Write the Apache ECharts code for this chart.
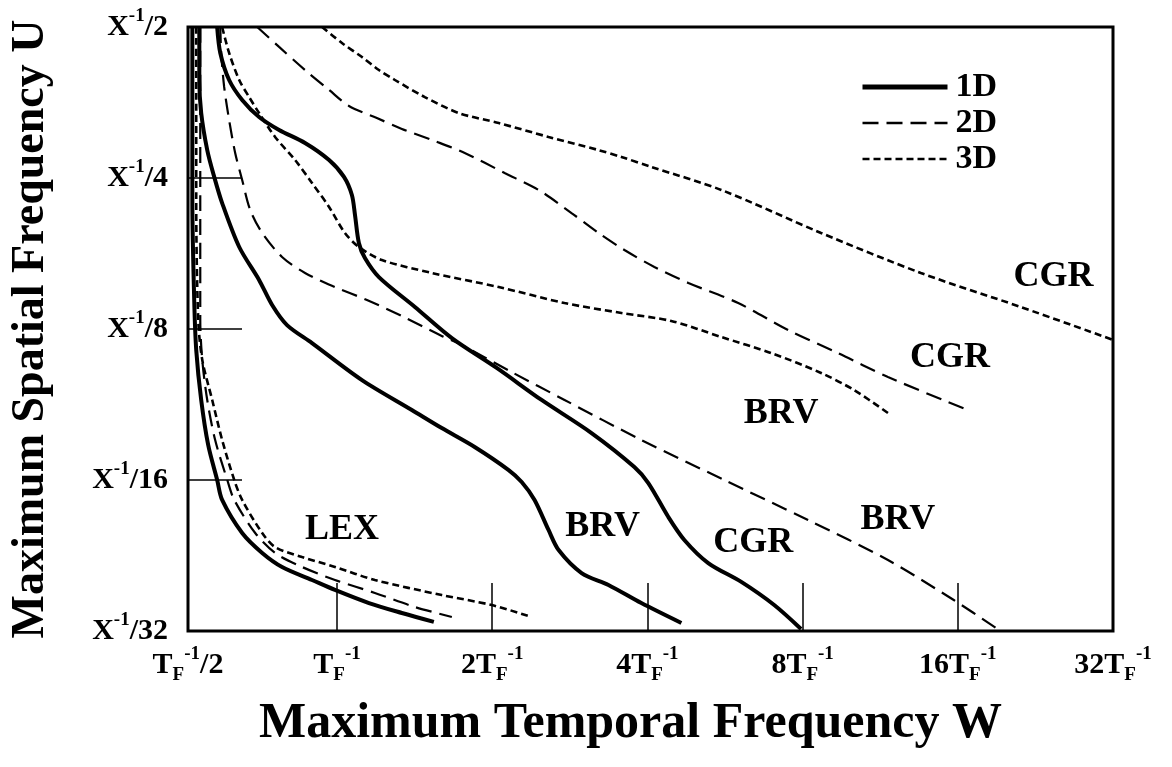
<!DOCTYPE html>
<html>
<head>
<meta charset="utf-8">
<script src="https://cdn.jsdelivr.net/npm/echarts@6.0.0/dist/echarts.min.js"></script>
<style>
  html, body { margin: 0; padding: 0; background: #fff; }
  #chart { width: 1172px; height: 767px; }
</style>
</head>
<body>
<div id="chart"></div>
<script>
// x: log2(W / TF^-1), y: log2 steps from X^-1/32 (0) up to X^-1/2 (4)
const xMin = -0.96
const xTickValues = [0, 1, 2, 3, 4]
const xLabelValues = [xMin, 0, 1, 2, 3, 4, 5]
const xTickLabels = [
    '{m|T}{sub|F}{sup|-1}{m|/2}',
    '{m|T}{sub|F}{sup|-1}',
    '{m|2T}{sub|F}{sup|-1}',
    '{m|4T}{sub|F}{sup|-1}',
    '{m|8T}{sub|F}{sup|-1}',
    '{m|16T}{sub|F}{sup|-1}',
    '{m|32T}{sub|F}{sup|-1}'
]
const yTickValues = [1, 2, 3]
const yLabelValues = [0, 1, 2, 3, 4]
const yTickLabels = [
    '{m|X}{sup|-1}{m|/32}',
    '{m|X}{sup|-1}{m|/16}',
    '{m|X}{sup|-1}{m|/8}',
    '{m|X}{sup|-1}{m|/4}',
    '{m|X}{sup|-1}{m|/2}'
]

// 1D (solid)
const lex1D = [[-0.932, 4.0], [-0.932, 2.854], [-0.920, 2.192], [-0.907, 1.861], [-0.875, 1.530], [-0.830, 1.232],
    [-0.772, 1.000], [-0.740, 0.868], [-0.611, 0.649], [-0.482, 0.517], [-0.354, 0.424], [-0.161, 0.338],
    [-0.013, 0.272], [0.206, 0.185], [0.418, 0.119], [0.624, 0.060]]
const brv1D = [[-0.887, 4.0], [-0.887, 3.649], [-0.875, 3.430], [-0.836, 3.185], [-0.791, 3.007], [-0.740, 2.834],
    [-0.630, 2.543], [-0.502, 2.325], [-0.418, 2.159], [-0.322, 2.026], [-0.161, 1.907], [0.161, 1.662],
    [0.482, 1.464], [0.675, 1.344], [0.887, 1.219], [1.106, 1.066], [1.190, 0.987], [1.273, 0.868],
    [1.363, 0.669], [1.428, 0.536], [1.576, 0.384], [1.749, 0.305], [1.961, 0.185], [2.219, 0.053]]
const cgr1D = [[-0.772, 4.0], [-0.752, 3.828], [-0.695, 3.649], [-0.611, 3.517], [-0.502, 3.404], [-0.373, 3.318],
    [-0.206, 3.232], [-0.051, 3.119], [0.045, 3.007], [0.096, 2.887], [0.116, 2.755], [0.141, 2.570],
    [0.180, 2.470], [0.270, 2.344], [0.502, 2.146], [0.740, 1.940], [1.029, 1.742], [1.318, 1.530],
    [1.640, 1.311], [1.916, 1.086], [2.006, 0.980], [2.135, 0.755], [2.238, 0.603], [2.392, 0.450],
    [2.605, 0.325], [2.817, 0.172], [2.990, 0.013]]

// 2D (long dashes)
const lex2D = [[-0.881, 4.0], [-0.881, 2.854], [-0.881, 2.060], [-0.868, 1.795], [-0.836, 1.530], [-0.785, 1.265],
    [-0.707, 1.000], [-0.662, 0.868], [-0.527, 0.649], [-0.399, 0.517], [-0.225, 0.424], [-0.013, 0.338],
    [0.244, 0.252], [0.502, 0.159], [0.740, 0.093]]
const brv2D = [[-0.752, 4.0], [-0.746, 3.828], [-0.727, 3.603], [-0.695, 3.384], [-0.656, 3.166], [-0.611, 2.987],
    [-0.559, 2.788], [-0.482, 2.636], [-0.354, 2.477], [-0.206, 2.371], [-0.013, 2.278], [0.193, 2.192],
    [0.418, 2.086], [0.675, 1.954], [0.804, 1.894], [1.125, 1.715], [1.466, 1.530], [1.961, 1.265],
    [2.495, 1.000], [3.035, 0.735], [3.550, 0.470], [3.974, 0.205], [4.257, 0.013]]
const cgr2D = [[-0.514, 4.0], [-0.373, 3.868], [-0.206, 3.715], [-0.051, 3.583], [0.077, 3.477], [0.257, 3.397],
    [0.418, 3.325], [0.630, 3.245], [0.823, 3.166], [1.080, 3.033], [1.299, 2.921], [1.511, 2.768],
    [1.685, 2.636], [1.852, 2.523], [2.045, 2.411], [2.264, 2.305], [2.585, 2.172], [2.907, 1.993],
    [3.228, 1.841], [3.550, 1.682], [4.064, 1.464]]

// 3D (short dashes)
const lex3D = [[-0.907, 4.0], [-0.907, 2.854], [-0.894, 2.060], [-0.868, 1.795], [-0.804, 1.530], [-0.740, 1.265],
    [-0.662, 1.000], [-0.611, 0.868], [-0.482, 0.649], [-0.399, 0.556], [-0.225, 0.490], [-0.013, 0.424],
    [0.244, 0.338], [0.675, 0.238], [0.997, 0.172], [1.235, 0.099]]
const brv3D = [[-0.740, 4.0], [-0.695, 3.828], [-0.630, 3.649], [-0.566, 3.536], [-0.502, 3.430], [-0.399, 3.272],
    [-0.270, 3.119], [-0.161, 2.967], [-0.051, 2.808], [0.051, 2.636], [0.141, 2.543], [0.289, 2.457],
    [0.611, 2.371], [1.042, 2.278], [1.466, 2.172], [1.833, 2.106], [2.154, 2.053], [2.476, 1.947],
    [2.797, 1.841], [3.119, 1.709], [3.331, 1.596], [3.550, 1.444]]
const cgr3D = [[-0.096, 4.0], [0.032, 3.894], [0.161, 3.801], [0.270, 3.715], [0.373, 3.649], [0.566, 3.536],
    [0.785, 3.430], [1.042, 3.364], [1.363, 3.272], [1.685, 3.185], [1.833, 3.139], [2.026, 3.073],
    [2.476, 2.921], [3.119, 2.636], [3.762, 2.371], [4.405, 2.146], [5.003, 1.927]]

// curve names written on the plot
const notes = [[4.617, 2.344, 'CGR'], [3.949, 1.808, 'CGR'], [2.862, 1.437, 'BRV'], [3.614, 0.735, 'BRV'],
    [1.711, 0.689, 'BRV'], [2.682, 0.583, 'CGR'], [0.032, 0.669, 'LEX']]

const serif = 'Liberation Serif'
const styles = {
    '1D': { width: 4, type: 'solid' },
    '2D': { width: 2.2, type: [16, 8] },
    '3D': { width: 2.6, type: [7, 4] }
}

const curve = (name, data) => ({
    name,
    type: 'line',
    data,
    smooth: 0.3,
    symbol: 'none',
    silent: true,
    lineStyle: { color: '#000', width: styles[name].width, type: styles[name].type, cap: 'butt' },
    itemStyle: { color: '#000' }
})

const tickRich = {
    m: { fontFamily: serif, fontWeight: 'bold', fontSize: 30, color: '#000', lineHeight: 40 },
    sub: { fontFamily: serif, fontWeight: 'bold', fontSize: 19, color: '#000', lineHeight: 19, verticalAlign: 'bottom' },
    sup: { fontFamily: serif, fontWeight: 'bold', fontSize: 19, color: '#000', lineHeight: 19, verticalAlign: 'top' }
}

const myChart = echarts.init(document.querySelector('#chart'))
myChart.setOption({
    animation: false,
    backgroundColor: '#fff',
    grid: {
        left: 186, right: 59, top: 27, bottom: 136,
        show: true, borderColor: '#000', borderWidth: 3, backgroundColor: 'transparent'
    },
    legend: {
        data: ['1D', '2D', '3D'].map(name => ({ name, lineStyle: { width: name === '1D' ? 5 : 2.4 } })),
        orient: 'vertical',
        left: 855,
        top: 65,
        itemWidth: 85,
        itemHeight: 14,
        itemGap: 2,
        selectedMode: false,
        itemStyle: { opacity: 0 },
        textStyle: { fontFamily: serif, fontWeight: 'bold', fontSize: 34, color: '#000', lineHeight: 34, padding: [0, 0, 0, 3] }
    },
    xAxis: {
        type: 'value',
        min: xMin,
        max: 5,
        name: 'Maximum Temporal Frequency W',
        nameLocation: 'middle',
        nameGap: 68,
        nameMoveOverlap: false,
        nameTextStyle: { fontFamily: serif, fontWeight: 'bold', fontSize: 50, color: '#000', padding: [0, 40, 0, 0] },
        axisLine: { show: false, onZero: false },
        splitLine: { show: false },
        axisTick: {
            show: true, inside: true, length: 48, customValues: xTickValues,
            lineStyle: { color: '#000', width: 1.5 }
        },
        axisLabel: {
            customValues: xLabelValues,
            margin: 14,
            fontSize: 30,
            fontFamily: serif,
            fontWeight: 'bold',
            color: '#000',
            formatter: v => xTickLabels[xLabelValues.indexOf(v)],
            rich: tickRich
        }
    },
    yAxis: {
        type: 'value',
        min: 0,
        max: 4,
        name: 'Maximum Spatial Frequency U',
        nameLocation: 'middle',
        nameGap: 134,
        nameMoveOverlap: false,
        nameTextStyle: { fontFamily: serif, fontWeight: 'bold', fontSize: 46, color: '#000' },
        axisLine: { show: false, onZero: false },
        splitLine: { show: false },
        axisTick: {
            show: true, inside: true, length: 54, customValues: yTickValues,
            lineStyle: { color: '#000', width: 1.5 }
        },
        axisLabel: {
            customValues: yLabelValues,
            margin: 20,
            fontSize: 30,
            fontFamily: serif,
            fontWeight: 'bold',
            color: '#000',
            formatter: v => yTickLabels[yLabelValues.indexOf(v)],
            rich: tickRich
        }
    },
    series: [
        curve('1D', lex1D), curve('1D', brv1D), curve('1D', cgr1D),
        curve('2D', lex2D), curve('2D', brv2D), curve('2D', cgr2D),
        curve('3D', lex3D), curve('3D', brv3D), curve('3D', cgr3D),
        {
            name: 'notes',
            type: 'scatter',
            data: notes,
            symbolSize: 0,
            silent: true,
            itemStyle: { opacity: 1, color: '#000' },
            label: {
                show: true,
                position: 'inside',
                formatter: p => p.data[2],
                fontFamily: serif,
                fontWeight: 'bold',
                fontSize: 36,
                color: '#000'
            }
        }
    ]
})
</script>
</body>
</html>
